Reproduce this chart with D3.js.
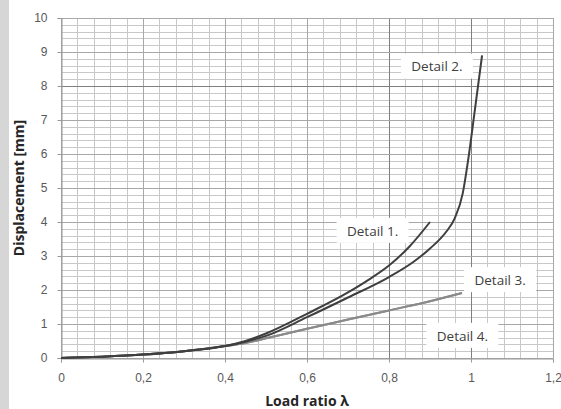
<!DOCTYPE html>
<html>
<head>
<meta charset="utf-8">
<script src="https://cdnjs.cloudflare.com/ajax/libs/d3/7.8.5/d3.min.js"></script>
<style>
  body { margin: 0; background: #fff; }
  svg { display: block; font-family: "Open Sans", "Liberation Sans", sans-serif; }
</style>
</head>
<body>
<div id="chart"></div>
<script>
var width = 561;
var height = 409;
var margin = {top: 18, right: 8, bottom: 51, left: 61};

// load ratio / displacement
var detail1X = [0, 0.1, 0.2, 0.3, 0.4, 0.45, 0.5, 0.6, 0.7, 0.75, 0.8, 0.85, 0.9];
var detail1Y = [0, 0.04, 0.1, 0.2, 0.35, 0.5, 0.72, 1.3, 1.93, 2.3, 2.72, 3.28, 4.0];
var detail2X = [0, 0.1, 0.2, 0.3, 0.4, 0.45, 0.5, 0.6, 0.7, 0.8, 0.86, 0.9, 0.94, 0.96, 0.98, 0.993, 1.01, 1.027];
var detail2Y = [0, 0.04, 0.1, 0.2, 0.35, 0.48, 0.65, 1.2, 1.78, 2.38, 2.83, 3.22, 3.72, 4.1, 4.85, 5.82, 7.35, 8.9];
var detail3X = [0, 0.1, 0.2, 0.3, 0.4, 0.45, 0.5, 0.6, 0.7, 0.8, 0.9, 0.978];
var detail3Y = [0, 0.04, 0.1, 0.2, 0.35, 0.44, 0.58, 0.86, 1.13, 1.4, 1.67, 1.91];
var detail4X = [0, 0.1, 0.2, 0.3, 0.4, 0.45, 0.5, 0.6, 0.7, 0.8, 0.9, 0.978];
var detail4Y = [0, 0.04, 0.1, 0.2, 0.35, 0.44, 0.58, 0.86, 1.13, 1.4, 1.67, 1.91];

var xTicks = [0, 0.2, 0.4, 0.6, 0.8, 1, 1.2];
var yTicks = [0, 1, 2, 3, 4, 5, 6, 7, 8, 9, 10];

var labelNames = ["Detail 1.", "Detail 2.", "Detail 3.", "Detail 4."];
var labelX = [0.76, 0.917, 1.071, 0.979];
var labelY = [3.74, 8.57, 2.29, 0.65];

function pairs(xs, ys) {
    return xs.map(function(x, i) { return {x: x, y: ys[i]}; });
}
var series = [
    {name: "Detail 4.", color: "#8a8a8a", points: pairs(detail4X, detail4Y)},
    {name: "Detail 3.", color: "#8a8a8a", points: pairs(detail3X, detail3Y)},
    {name: "Detail 2.", color: "#3f3f3f", points: pairs(detail2X, detail2Y)},
    {name: "Detail 1.", color: "#3f3f3f", points: pairs(detail1X, detail1Y)}
];

var x = d3.scaleLinear().domain([0, 1.2]).range([margin.left, width - margin.right]);
var y = d3.scaleLinear().domain([0, 10]).range([height - margin.bottom, margin.top]);

var svg = d3.select("#chart")
    .append("svg")
    .attr("width", width)
    .attr("height", height);

// grey strip on the left edge
svg.append("rect")
    .attr("x", 0).attr("y", 0)
    .attr("width", 9).attr("height", height)
    .style("fill", "#d6d6d6");

// minor grid
var minorX = d3.range(0, 1.2001, 0.04);
var minorY = d3.range(0, 10.001, 0.2);
svg.append("g").selectAll("line")
    .data(minorX)
    .enter().append("line")
    .attr("x1", function(d) { return Math.round(x(d)) + 0.5; })
    .attr("x2", function(d) { return Math.round(x(d)) + 0.5; })
    .attr("y1", y(0)).attr("y2", y(10))
    .style("stroke", "#c8c8c8");
svg.append("g").selectAll("line")
    .data(minorY)
    .enter().append("line")
    .attr("y1", function(d) { return Math.round(y(d)) + 0.5; })
    .attr("y2", function(d) { return Math.round(y(d)) + 0.5; })
    .attr("x1", x(0)).attr("x2", x(1.2))
    .style("stroke", "#c8c8c8");

// major grid
svg.append("g").selectAll("line")
    .data(xTicks)
    .enter().append("line")
    .attr("x1", function(d) { return Math.round(x(d)) + 0.5; })
    .attr("x2", function(d) { return Math.round(x(d)) + 0.5; })
    .attr("y1", y(0)).attr("y2", y(10))
    .style("stroke", function(d) { return (d == 0.8 || d == 1) ? "#7f7f7f" : "#a8a8a8"; });
svg.append("g").selectAll("line")
    .data(yTicks)
    .enter().append("line")
    .attr("y1", function(d) { return Math.round(y(d)) + 0.5; })
    .attr("y2", function(d) { return Math.round(y(d)) + 0.5; })
    .attr("x1", x(0)).attr("x2", x(1.2))
    .style("stroke", function(d) { return d == 8 ? "#7f7f7f" : "#a8a8a8"; });

// axes
var fmt = function(d) { return String(d).replace(".", ","); };
var xAxis = svg.append("g")
    .attr("transform", "translate(0," + (Math.round(y(0)) + 0.5) + ")")
    .call(d3.axisBottom(x).tickValues(xTicks).tickFormat(fmt).tickSize(4).tickPadding(11));
var yAxis = svg.append("g")
    .attr("transform", "translate(" + (Math.round(x(0)) + 0.5) + ",0)")
    .call(d3.axisLeft(y).tickValues(yTicks).tickSize(4).tickPadding(10));
[xAxis, yAxis].forEach(function(a) {
    a.select(".domain").style("stroke", "#999");
    a.selectAll(".tick line").style("stroke", "#999");
    a.selectAll(".tick text").style("fill", "#595959").style("font-size", "12px");
});

// curves
var line = d3.line()
    .x(function(d) { return x(d.x); })
    .y(function(d) { return y(d.y); })
    .curve(d3.curveMonotoneX);

svg.append("g").selectAll("path")
    .data(series)
    .enter().append("path")
    .attr("d", function(d) { return line(d.points); })
    .style("fill", "none")
    .style("stroke", function(d) { return d.color; })
    .style("stroke-width", 2);

// labels with white boxes
var labels = svg.append("g").selectAll("g")
    .data(labelNames)
    .enter().append("g")
    .attr("transform", function(d, i) { return "translate(" + x(labelX[i]) + "," + y(labelY[i]) + ")"; });
labels.append("rect")
    .attr("x", -36).attr("y", -13)
    .attr("width", 72).attr("height", 25)
    .style("fill", "#fff");
labels.append("text")
    .attr("text-anchor", "middle")
    .attr("dy", "0.35em")
    .style("font-size", "13.5px")
    .style("fill", "#404040")
    .text(function(d) { return d; });

// axis titles
svg.append("text")
    .attr("x", (margin.left + width - margin.right) / 2)
    .attr("y", 406)
    .attr("text-anchor", "middle")
    .style("font-size", "14px")
    .style("font-weight", "bold")
    .style("fill", "#262626")
    .text("Load ratio λ");
svg.append("text")
    .attr("transform", "translate(24," + y(5) + ") rotate(-90)")
    .attr("text-anchor", "middle")
    .style("font-size", "14px")
    .style("font-weight", "bold")
    .style("fill", "#262626")
    .text("Displacement [mm]");
</script>
</body>
</html>
